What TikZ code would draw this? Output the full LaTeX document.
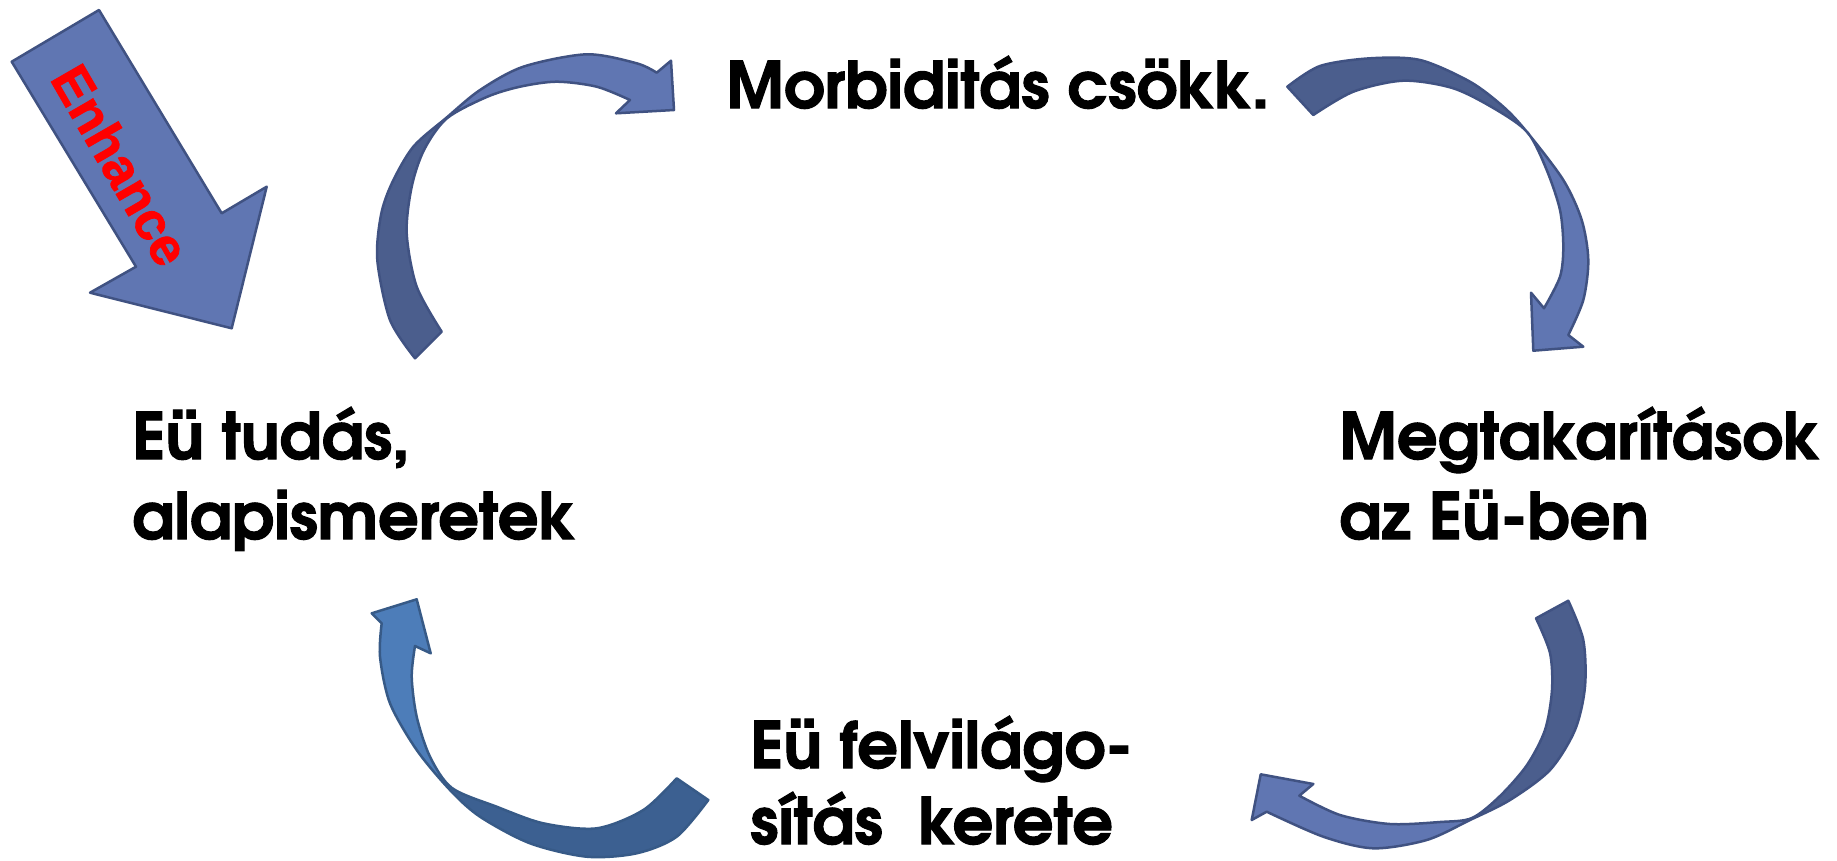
\documentclass[tikz,border=0pt]{standalone}
\usepackage{fontspec}
\newfontfamily\gothic{texgyreadventor-bold.otf}[FakeBold=1.6]
\newfontfamily\arialb{Liberation Sans Bold}[FakeBold=1.5]
\definecolor{arrowlight}{RGB}{96,118,178}
\definecolor{arrowdark}{RGB}{75,94,141}
\definecolor{arrowedge}{RGB}{64,82,130}
\definecolor{bllight}{RGB}{77,125,185}
\definecolor{bldark}{RGB}{60,96,145}
\definecolor{bledge}{RGB}{55,90,135}
\tikzset{
  arrowline/.style={draw=arrowedge, line width=2.5pt, line join=round},
  blline/.style={draw=bledge, line width=2.5pt, line join=round},
  lbl/.style={font=\gothic\fontsize{64}{80}\selectfont, anchor=base west, inner sep=0pt, text=black},
}
\newcommand{\twolines}[2]{\vtop{\hbox{#1}\hbox{#2}}}
% outlines of the four curved arrows (pixel coordinates, y downwards)
\def\tlshape{plot[smooth] coordinates {(415,358.3) (390,320) (377.3,260) (381,215) (392,183) (413.3,146.7) (446.7,117.5) (480,90) (523.3,66.7) (586.7,54.3) (636.7,63.3) (656.7,72.7)}
  -- (671,60.7) -- (674,110) -- (616,113.3) -- (630,100)
  -- plot[smooth] coordinates {(630,100) (596.7,86.7) (556.7,81.7) (520,86.7) (486.7,97) (446.7,118.5) (424,150) (411.7,186.7) (406.7,233.3) (416.7,286.7) (441.7,331.7)} -- cycle}
\def\trshape{plot[smooth] coordinates {(1287.3,86.7) (1320,66) (1370,58.3) (1420,60) (1470,81.7) (1503.3,106.7) (1526.7,131.7) (1563.3,180) (1581.7,220) (1588.3,260) (1583.3,300) (1568.3,335)}
  -- (1583.3,346.7) -- (1533.3,350.7) -- (1531,292.7) -- (1544,308.3)
  -- plot[smooth] coordinates {(1544,308.3) (1560,276.7) (1563.3,246.7) (1560,210) (1546.7,170) (1528,133) (1496.7,110) (1453.3,88.3) (1403.3,80.7) (1353.3,91.7) (1313.3,115)} -- cycle}
\def\brshape{plot[smooth] coordinates {(1568.3,600.7) (1583.3,640) (1585,686.7) (1575,730) (1550,770) (1510,800) (1470,820) (1426.7,840) (1373.3,848.3) (1323.3,836.7) (1266.7,811.7)}
  -- (1251.7,820) -- (1260.7,774.3) -- (1313.3,784) -- (1299.3,795.7)
  -- plot[smooth] coordinates {(1299.3,795.7) (1340,815) (1390,824) (1440,822) (1472,818) (1500,796) (1527,765) (1545,730) (1552,690) (1550,653) (1536,618.3)} -- cycle}
\def\blshape{plot[smooth] coordinates {(708.3,800) (676.7,836.7) (636.7,853.3) (586.7,856.7) (530,843.3) (480,816.7) (450,790) (416.7,750) (390,703.3) (380,656.7) (381.7,623.3)}
  -- (371.7,613.3) -- (416.7,599.3) -- (430.7,653.3) -- (415,646)
  -- plot[smooth] coordinates {(415,646) (411.7,676.7) (416.7,716.7) (430,756.7) (452,788) (496.7,806.7) (543.3,823.3) (596.7,828.3) (643.3,810) (676.7,778.3)} -- cycle}
\begin{document}
\begin{tikzpicture}[x=1pt,y=-1pt]
\useasboundingbox[fill=white] (0,0) rectangle (1837,860);

% Enhance arrow
\path[arrowline, fill=arrowlight] (11.7,61.7) -- (99,10) -- (221.7,213.3) -- (266.7,186.7) -- (231.7,328.3) -- (90,292.7) -- (136,266.7) -- cycle;
\node[font=\arialb\fontsize{53}{60}\selectfont, text=red, rotate=-60, inner sep=0pt] (enh) at (121,165) {Enhance};

% top-left curved arrow
\fill[arrowlight] \tlshape;
\begin{scope}
  \clip[shift={(446.7,118)}, rotate=220.4] (0,-400) rectangle (700,400);
  \fill[arrowdark] \tlshape;
\end{scope}
\draw[arrowline] \tlshape;

% top-right curved arrow
\fill[arrowlight] \trshape;
\begin{scope}
  \clip[shift={(1527,132)}, rotate=132.3] (0,-400) rectangle (700,400);
  \fill[arrowdark] \trshape;
\end{scope}
\draw[arrowline] \trshape;

% bottom-right curved arrow
\fill[arrowlight] \brshape;
\begin{scope}
  \clip[shift={(1472,819)}, rotate=25.2] (0,-400) rectangle (700,400);
  \fill[arrowdark] \brshape;
\end{scope}
\draw[arrowline] \brshape;

% bottom-left curved arrow
\fill[bllight] \blshape;
\begin{scope}
  \clip[shift={(451,789)}, rotate=-47.7] (0,-400) rectangle (700,400);
  \fill[bldark] \blshape;
\end{scope}
\draw[blline] \blshape;

% labels
\node[lbl] (morb) at (726,108) {Morbiditás csökk.};
\node[lbl] (tudas) at (132,459) {\twolines{Eü tudás,}{alapismeretek}};
\node[lbl] (megt) at (1339,459) {\twolines{Megtakarítások}{az Eü-ben}};
\node[lbl, font=\gothic\fontsize{64}{76}\selectfont] (felv) at (750,768) {\twolines{Eü felvilágo-}{sítás\ \ kerete}};
\end{tikzpicture}
\end{document}
